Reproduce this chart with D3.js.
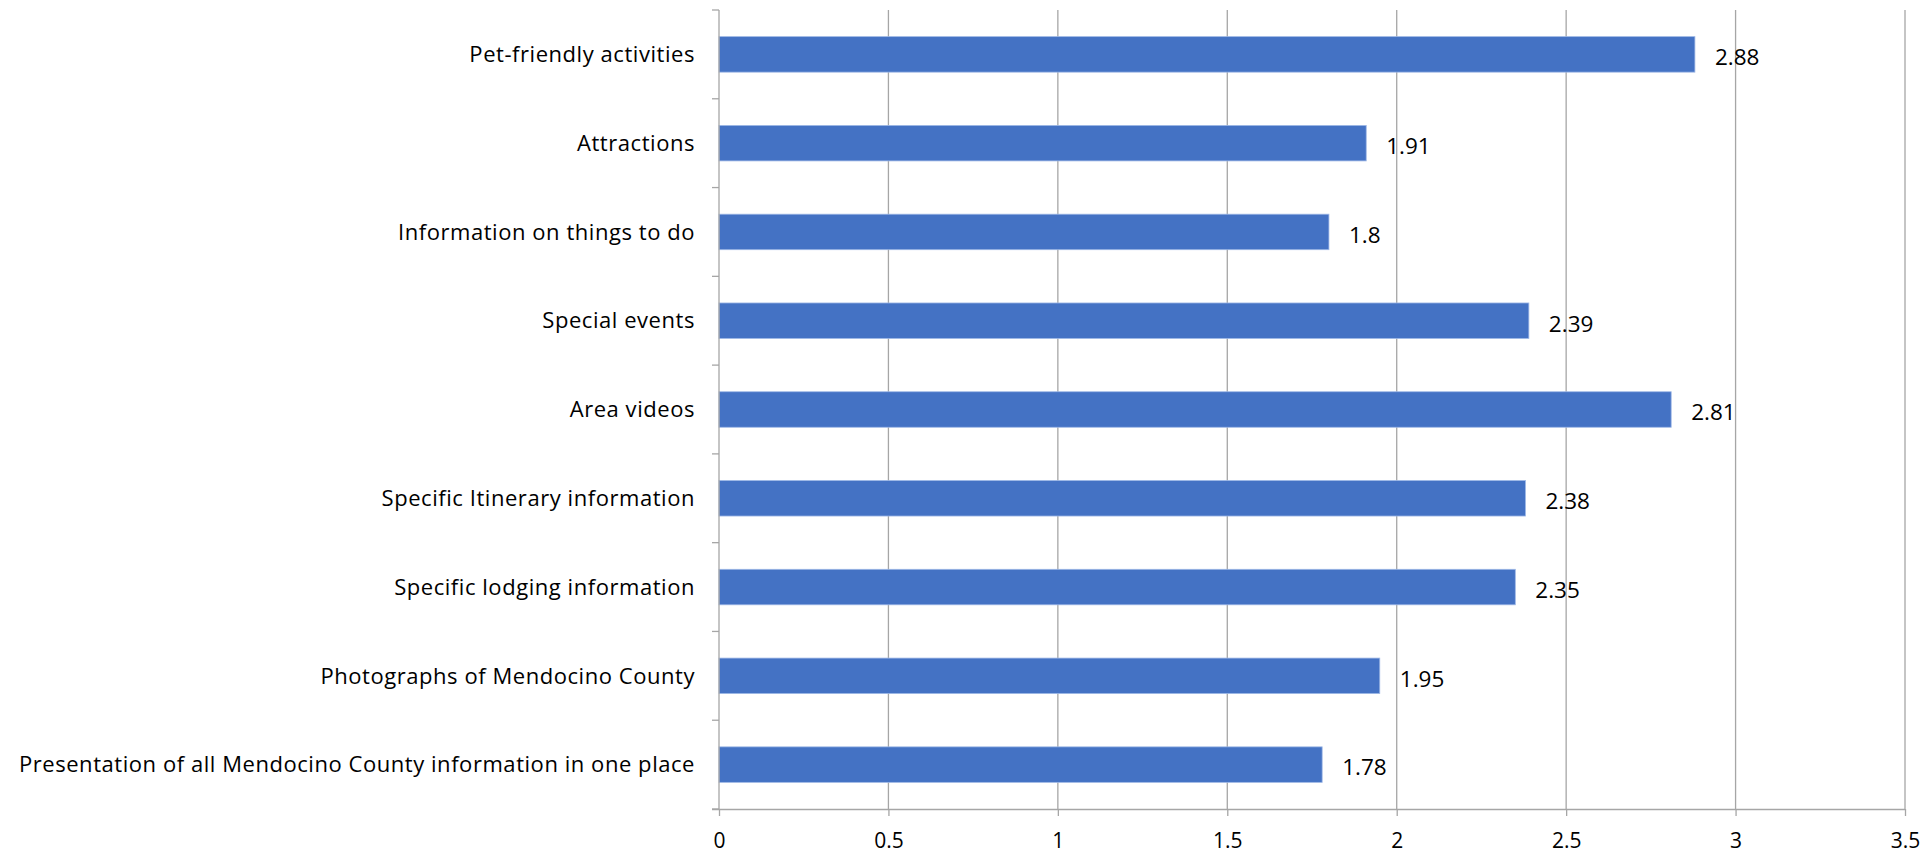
<!DOCTYPE html>
<html><head><meta charset="utf-8">
<script src="https://cdn.jsdelivr.net/npm/d3@7"></script>
<style>body{margin:0;background:#fff}svg{display:block}</style>
</head><body>
<svg id="c" width="1926" height="859"></svg>
<script>
const categories = [
  "Pet-friendly activities",
  "Attractions",
  "Information on things to do",
  "Special events",
  "Area videos",
  "Specific Itinerary information",
  "Specific lodging information",
  "Photographs of Mendocino County",
  "Presentation of all Mendocino County information in one place"
];
const values = [2.88, 1.91, 1.8, 2.39, 2.81, 2.38, 2.35, 1.95, 1.78];
const xTicks = [0, 0.5, 1, 1.5, 2, 2.5, 3, 3.5];
const xTickLabels = ["0", "0.5", "1", "1.5", "2", "2.5", "3", "3.5"];

const font = "'Open Sans',sans-serif";
const svg = d3.select("#c");
const m = {left: 719, right: 1905, top: 10, bottom: 809};
const x = d3.scaleLinear().domain([0, 3.5]).range([m.left, m.right]);
const y = d3.scaleBand().domain(categories).range([m.top, m.bottom]).paddingInner(0.6).paddingOuter(0.3);
const yb = d3.scaleBand().domain(categories).range([m.top, m.bottom]);
const grid = "#a6a6a6";

// gridlines
svg.append("g").selectAll("line").data(xTicks.slice(1)).join("line")
  .attr("x1", d => x(d)).attr("x2", d => x(d))
  .attr("y1", m.top).attr("y2", m.bottom)
  .attr("stroke", grid).attr("stroke-width", 1.3);

// bars
svg.append("g").selectAll("rect").data(values).join("rect")
  .attr("x", x(0)).attr("y", (d, i) => y(categories[i]))
  .attr("width", d => x(d) - x(0)).attr("height", y.bandwidth())
  .attr("fill", "#4472C4").attr("stroke", "#9fb8e6").attr("stroke-width", 0.8);

// bottom axis
const xa = svg.append("g").attr("transform", `translate(0,${m.bottom})`)
  .call(d3.axisBottom(x).tickValues(xTicks).tickFormat((d, i) => xTickLabels[i]).tickSize(7).tickPadding(17));
xa.select(".domain").attr("stroke", grid).attr("stroke-width", 1.3).attr("d", `M${m.left - 7},0.5H${m.right}`);
xa.selectAll(".tick line").attr("stroke", grid).attr("stroke-width", 1.3);
xa.selectAll("text").attr("font-family", font).attr("font-size", 21).attr("fill", "#000");

// left axis
svg.append("line").attr("x1", m.left).attr("x2", m.left).attr("y1", m.top).attr("y2", m.bottom)
  .attr("stroke", grid).attr("stroke-width", 1.3);
const bounds = categories.map(c => yb(c)).concat([m.bottom]);
svg.append("g").selectAll("line").data(bounds).join("line")
  .attr("x1", m.left - 7).attr("x2", m.left).attr("y1", d => d).attr("y2", d => d)
  .attr("stroke", grid).attr("stroke-width", 1.3);

// category labels
svg.append("g").selectAll("text").data(categories).join("text")
  .attr("x", m.left - 24).attr("y", d => y(d) + y.bandwidth() / 2)
  .attr("dy", "0.35em").attr("text-anchor", "end")
  .attr("font-family", font).attr("font-size", 22).attr("letter-spacing", "0.55px")
  .attr("fill", "#000").text(d => d);

// value labels
svg.append("g").selectAll("text").data(values).join("text")
  .attr("x", d => x(d) + 20).attr("y", (d, i) => y(categories[i]) + y.bandwidth() / 2 + 3)
  .attr("dy", "0.35em").attr("font-family", font).attr("font-size", 22.5).attr("fill", "#000")
  .text(d => String(d));
</script>
</body></html>
